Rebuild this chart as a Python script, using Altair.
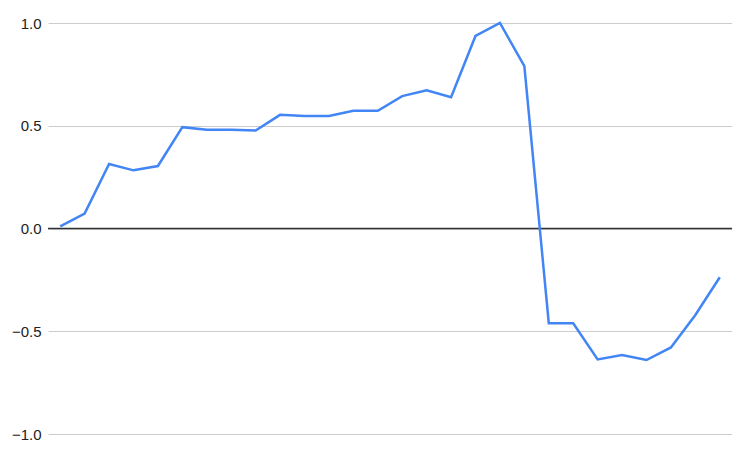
import altair as alt
import pandas as pd

idx = list(range(1, 29))
values = [0.01, 0.073, 0.314, 0.283, 0.304, 0.493, 0.481, 0.481, 0.477, 0.553,
          0.548, 0.548, 0.573, 0.573, 0.644, 0.673, 0.639, 0.937, 1.0, 0.79,
          -0.461, -0.461, -0.637, -0.616, -0.640, -0.579, -0.421, -0.237]

df = pd.DataFrame({"i": idx, "v": values})

x = alt.X("i:O", scale=alt.Scale(type="point", padding=0.5), axis=None)
y_scale = alt.Scale(domain=[-1, 1], nice=False)

line = alt.Chart(df).mark_line(color="#4285F4", strokeWidth=2.5).encode(
    x=x,
    y=alt.Y("v:Q", scale=y_scale, title=None,
            axis=alt.Axis(values=[-1, -0.5, 0, 0.5, 1], format=".1f", domain=False,
                          ticks=False, labelPadding=7, labelFontSize=15,
                          labelFont="Liberation Sans", labelColor="#222222",
                          gridColor="#cccccc", gridWidth=1)),
)

zero = alt.Chart(pd.DataFrame({"z": [0]})).mark_rule(color="#333333", strokeWidth=1.3).encode(
    y=alt.Y("z:Q", scale=y_scale)
)

chart = alt.layer(zero, line).properties(
    width=684, height=411,
    padding={"left": 40, "top": 15, "right": 0, "bottom": 12},
    autosize=alt.AutoSizeParams(type="none"),
).configure_view(stroke=None)

chart.save("out.html", embed_options={"renderer": "svg", "actions": False})
